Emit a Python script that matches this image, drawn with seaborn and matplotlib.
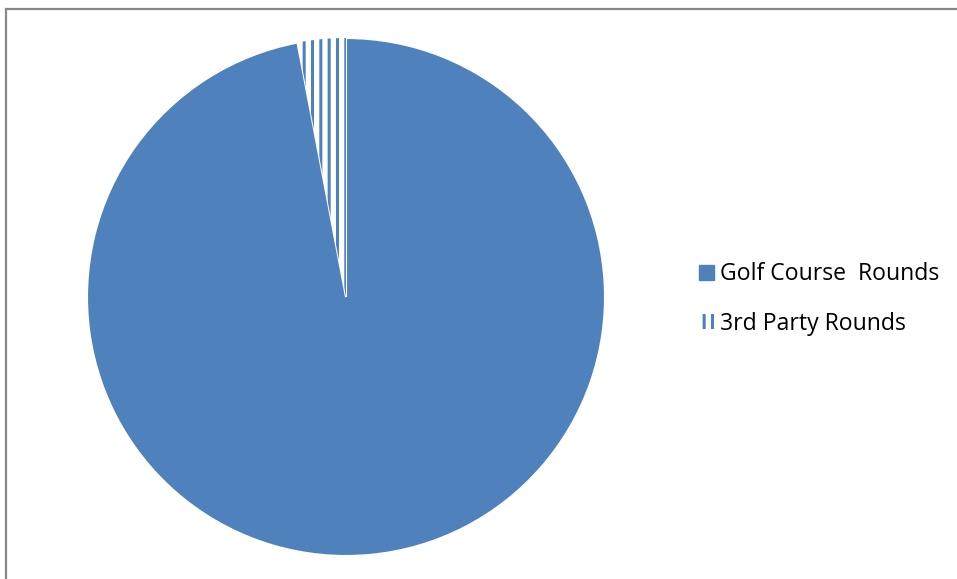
import matplotlib
matplotlib.use("Agg")
import matplotlib.pyplot as plt
import seaborn as sns
from matplotlib.patches import Rectangle, Patch

sns.set_theme(style="white")
plt.rcParams['font.family'] = ['Open Sans', 'DejaVu Sans']
plt.rcParams['hatch.linewidth'] = 2.2

categories = ["Golf Course  Rounds", "3rd Party Rounds"]
values = [97, 3]
blue = "#4F81BD"

W, H = 957, 579
fig = plt.figure(figsize=(W / 100, H / 100), dpi=100)
fig.patch.set_facecolor("white")

# chart-area border (left & top visible)
fig.patches.append(Rectangle((6 / W, -0.2), 1.2, (H - 9) / H + 0.2,
                             transform=fig.transFigure, fill=False,
                             edgecolor="#878787", linewidth=1.6, zorder=0))

cx, cy, r = 346, 297, 259
ax = fig.add_axes([(cx - r) / W, (H - cy - r) / H, 2 * r / W, 2 * r / H])
wedges, _ = ax.pie(values, startangle=90, counterclock=False, radius=1,
                   colors=[blue, "white"],
                   wedgeprops=dict(edgecolor="white", linewidth=1.5))
wedges[1].set_hatch("||")
wedges[1].set_edgecolor(blue)
wedges[1].set_linewidth(0)
ax.set_xlim(-1.0, 1.0)
ax.set_ylim(-1.0, 1.0)
ax.set_aspect("equal")
ax.axis("off")

handles = [Patch(facecolor=blue, edgecolor=blue, label=categories[0]),
           Patch(facecolor="white", edgecolor=blue, hatch="||", linewidth=0,
                 label=categories[1])]
fig.legend(handles=handles, loc="center left",
           bbox_to_anchor=(678 / W, (H - 299) / H), frameon=False,
           fontsize=16.6, handlelength=0.65, handleheight=0.65,
           handletextpad=0.25, labelspacing=1.1, labelcolor="black")

fig.savefig("out.png", dpi=100)
